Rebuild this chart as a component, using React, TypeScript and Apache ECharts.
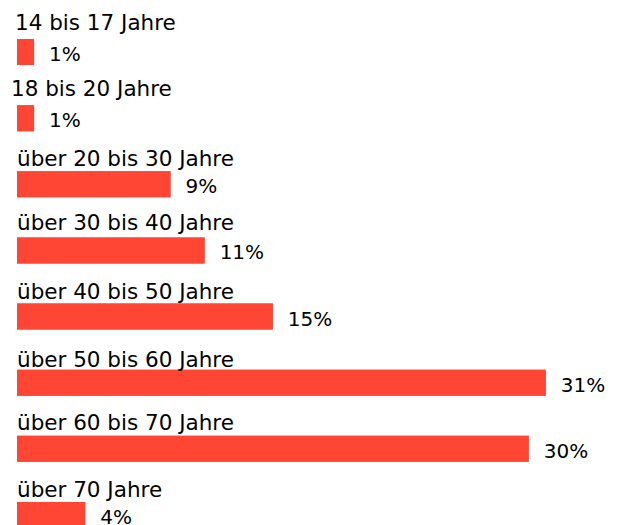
import React, { useEffect, useRef } from "react";
import * as echarts from "echarts";

const categories = [
  "14 bis 17 Jahre",
  "18 bis 20 Jahre",
  "über 20 bis 30 Jahre",
  "über 30 bis 40 Jahre",
  "über 40 bis 50 Jahre",
  "über 50 bis 60 Jahre",
  "über 60 bis 70 Jahre",
  "über 70 Jahre",
];
const values = [1, 1, 9, 11, 15, 31, 30, 4];

const FONT = "DejaVu Sans";
const RED = "#FF4534";
// small nudges of the category captions relative to their bar (styling only)
const captionShiftX = [-2, -6, 0, 0, 0, 0, 0, 0];
const captionShiftY = [-17, -16.5, -13, -14.5, -12.5, -10.5, -13.5, -12];

export default function App() {
  const ref = useRef<HTMLDivElement>(null);
  useEffect(() => {
    if (!ref.current) return;
    const chart = echarts.init(ref.current, null, { renderer: "svg" });
    chart.setOption({
      animation: false,
      grid: { left: 17, top: 19, width: 597, height: 529, containLabel: false },
      xAxis: {
        type: "value",
        min: 0,
        max: 35,
        show: false,
      },
      yAxis: {
        type: "category",
        data: categories,
        inverse: true,
        show: false,
      },
      series: [
        {
          type: "bar",
          data: values.map((v, i) => ({
            value: v,
            label: { position: [captionShiftX[i], captionShiftY[i]] },
          })),
          barWidth: 26,
          itemStyle: { color: RED },
          label: {
            show: true,
            align: "left",
            verticalAlign: "middle",
            fontFamily: FONT,
            fontSize: 21.5,
            color: "#000",
            formatter: (p: any) => categories[p.dataIndex],
          },
        },
        {
          type: "bar",
          data: values,
          barWidth: 26,
          barGap: "-100%",
          itemStyle: { color: RED },
          label: {
            show: true,
            position: "right",
            distance: 15,
            offset: [0, 2],
            fontFamily: FONT,
            fontSize: 20,
            color: "#000",
            formatter: (p: any) => p.value + "%",
          },
        },
      ],
    });
    return () => chart.dispose();
  }, []);
  return (
    <div style={{ position: "fixed", left: 0, top: 0, width: 622, height: 525, overflow: "hidden", background: "#fff" }}>
      <div ref={ref} style={{ width: 622, height: 560 }} />
    </div>
  );
}
